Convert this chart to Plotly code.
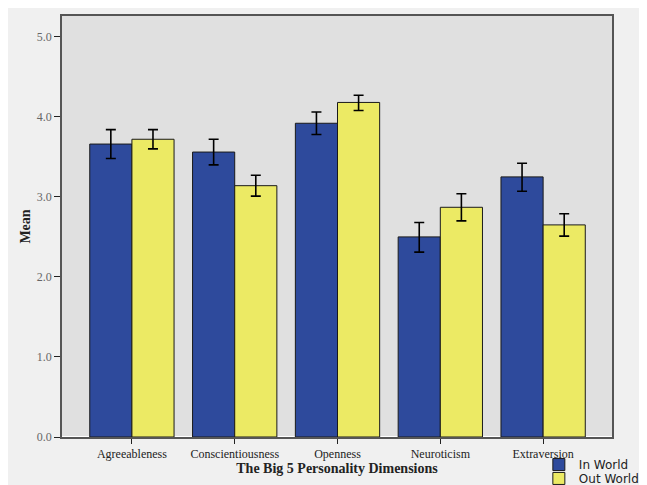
import plotly.graph_objects as go

categories = ["Agreeableness", "Conscientiousness", "Openness", "Neuroticism", "Extraversion"]
in_world = [3.66, 3.56, 3.92, 2.50, 3.25]
in_world_hi = [3.84, 3.72, 4.06, 2.68, 3.42]
in_world_lo = [3.48, 3.40, 3.78, 2.31, 3.07]
out_world = [3.72, 3.14, 4.18, 2.87, 2.65]
out_world_hi = [3.84, 3.27, 4.27, 3.04, 2.79]
out_world_lo = [3.60, 3.01, 4.08, 2.70, 2.51]
y_ticks = [0, 1, 2, 3, 4, 5]
y_tick_labels = ["0.0", "1.0", "2.0", "3.0", "4.0", "5.0"]

def err(vals, hi, lo):
    return dict(type="data", symmetric=False,
                array=[h - v for h, v in zip(hi, vals)],
                arrayminus=[v - l for v, l in zip(vals, lo)],
                color="black", thickness=1.6, width=5)

fig = go.Figure()
fig.add_trace(go.Bar(x=categories, y=in_world, name="In World", legend="legend",
                     marker=dict(color="#2e4a9c", line=dict(color="#1a1a1a", width=1)),
                     error_y=err(in_world, in_world_hi, in_world_lo)))
fig.add_trace(go.Bar(x=categories, y=out_world, name="Out World", legend="legend2",
                     marker=dict(color="#ecea64", line=dict(color="#1a1a1a", width=1)),
                     error_y=err(out_world, out_world_hi, out_world_lo)))

serif = "Liberation Serif, Times New Roman, serif"
legend_font = dict(family="DejaVu Sans, Verdana, sans-serif", size=12, color="#222")
fig.update_layout(
    width=647, height=485,
    margin=dict(l=54, r=43, t=8, b=56, autoexpand=False),
    paper_bgcolor="#f0f0f0", plot_bgcolor="#e0e0e0",
    barmode="group", bargap=0.18, bargroupgap=0,
    showlegend=True,
    legend=dict(x=0.867, y=-0.031, xanchor="left", yanchor="top",
                bgcolor="rgba(0,0,0,0)", font=legend_font),
    legend2=dict(x=0.867, y=-0.064, xanchor="left", yanchor="top",
                 bgcolor="rgba(0,0,0,0)", font=legend_font),
    xaxis=dict(range=[-0.68, 4.67], showgrid=False, ticks="outside", ticklen=5,
               tickcolor="#222", showline=True, linecolor="#555", linewidth=1.5, mirror=True,
               tickfont=dict(family=serif, size=12, color="#222"),
               title=dict(text="<b>The Big 5 Personality Dimensions</b>",
                          font=dict(family=serif, size=14, color="#222"), standoff=2)),
    yaxis=dict(range=[0, 5.26], showgrid=False, ticks="outside", ticklen=6,
               tickcolor="#222", showline=True, linecolor="#555", linewidth=1.5, mirror=True,
               tickvals=y_ticks, ticktext=y_tick_labels,
               tickfont=dict(family=serif, size=12, color="#666"),
               title=dict(text="<b>Mean</b>", font=dict(family=serif, size=14, color="#222"),
                          standoff=3)),
)
fig.write_html("out.html")
